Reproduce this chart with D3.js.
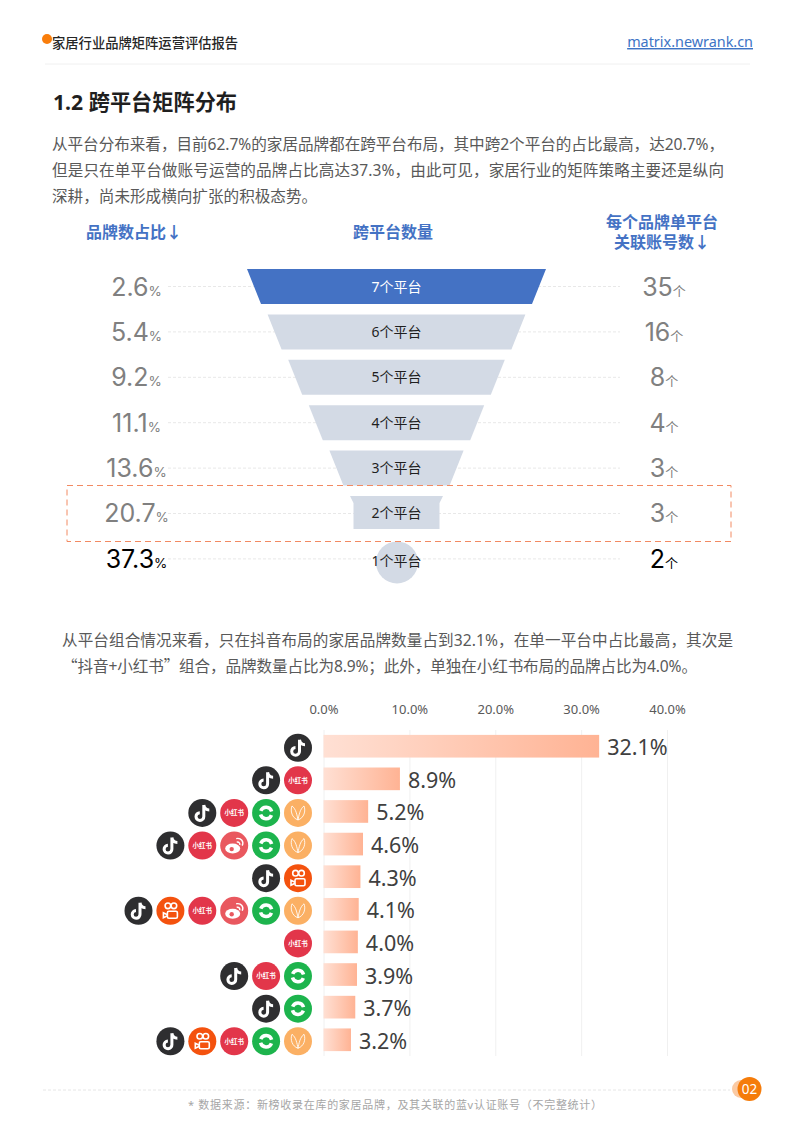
<!DOCTYPE html>
<html lang="zh-CN">
<head>
<meta charset="utf-8">
<script src="https://cdn.jsdelivr.net/npm/d3@7"></script>
<style>
  body { margin: 0; background: #fff; }
  text { font-family: "Noto Sans", "Noto Sans CJK SC", sans-serif; }
  .cjkquote { font-family: "Noto Sans CJK SC", sans-serif; }
</style>
</head>
<body>
<div id="viz-container"></div>
<script>
let w = 792;
let h = 1122;

// funnel data
let platformCounts = [7, 6, 5, 4, 3, 2, 1];
let brandShare = [2.6, 5.4, 9.2, 11.1, 13.6, 20.7, 37.3];
let accountCounts = [35, 16, 8, 4, 3, 3, 2];

// bar data
let comboValues = [32.1, 8.9, 5.2, 4.6, 4.3, 4.1, 4.0, 3.9, 3.7, 3.2];
let comboPlatforms = [
  ["douyin"],
  ["douyin", "xhs"],
  ["douyin", "xhs", "wechat", "butterfly"],
  ["douyin", "xhs", "weibo", "wechat", "butterfly"],
  ["douyin", "kuaishou"],
  ["douyin", "kuaishou", "xhs", "weibo", "wechat", "butterfly"],
  ["xhs"],
  ["douyin", "xhs", "wechat"],
  ["douyin", "wechat"],
  ["douyin", "kuaishou", "xhs", "wechat", "butterfly"]
];
let axisTicks = [0, 10, 20, 30, 40];

let introLines = [
  "从平台分布来看，目前62.7%的家居品牌都在跨平台布局，其中跨2个平台的占比最高，达20.7%，",
  "但是只在单平台做账号运营的品牌占比高达37.3%，由此可见，家居行业的矩阵策略主要还是纵向",
  "深耕，尚未形成横向扩张的积极态势。"
];
let comboLines = [
  "从平台组合情况来看，只在抖音布局的家居品牌数量占到32.1%，在单一平台中占比最高，其次是",
  "“抖音+小红书”组合，品牌数量占比为8.9%；此外，单独在小红书布局的品牌占比为4.0%。"
];

let viz = d3.select("#viz-container")
  .append("svg")
    .attr("width", w)
    .attr("height", h)
    .style("display", "block");

function addText(x, y, str, size, color, anchor, weight) {
  return viz.append("text")
    .attr("x", x)
    .attr("y", y)
    .attr("font-size", size)
    .attr("fill", color)
    .attr("text-anchor", anchor || "start")
    .attr("font-weight", weight || 400)
    .text(str);
}

// header
viz.append("circle").attr("cx", 47).attr("cy", 39).attr("r", 5).attr("fill", "#f97d0b");
addText(52, 48, "家居行业品牌矩阵运营评估报告", 13.3, "#262626", "start", 500);
addText(753, 47, "matrix.newrank.cn", 14.4, "#3d74c5", "end").attr("text-decoration", "underline");
viz.append("line").attr("x1", 45).attr("x2", 750).attr("y1", 64).attr("y2", 64).attr("stroke", "#f0f0f0");

addText(53, 110, "1.2 跨平台矩阵分布", 21.2, "#1f1f1f", "start", 700);

introLines.forEach(function (line, i) {
  let t = addText(52, 149.5 + i * 26, line, 15.6, "#595959");
  if (i < 2) t.attr("textLength", 672).attr("lengthAdjust", "spacing");
});

// column titles
let blue = "#4472c4";
addText(134, 237.5, "品牌数占比↓", 16, blue, "middle", 700);
addText(393, 237.5, "跨平台数量", 16, blue, "middle", 700);
addText(662, 228, "每个品牌单平台", 16, blue, "middle", 700);
addText(662, 248, "关联账号数↓", 16, blue, "middle", 700);

// funnel
let funnelCx = 396.5;
let rowY = d3.scaleBand().domain(platformCounts).range([269, 576.4]).paddingInner(0.229).paddingOuter(0);
let topWidth = d3.scaleLinear().domain([2, 7]).range([93, 299]);
let slant = 14;

let rows = viz.selectAll(".funnelrow")
  .data(platformCounts)
  .enter()
  .append("g")
    .attr("class", "funnelrow")
    .attr("transform", d => "translate(0," + rowY(d) + ")");

let mid = rowY.bandwidth() / 2;

rows.append("line")
  .attr("x1", 168)
  .attr("x2", 620)
  .attr("y1", mid)
  .attr("y2", mid)
  .attr("stroke", "#e8e8e8")
  .attr("stroke-dasharray", "3 2");

function funnelShape(d) {
  let half = topWidth(d) / 2;
  let b = rowY.bandwidth();
  let pts;
  if (d == 2) {
    // this one is cut off square near the top
    let inner = half - 3.5;
    pts = [[-half, 0], [half, 0], [inner, 7], [inner, b - 2], [-inner, b - 2], [-inner, 7]];
  } else {
    pts = [[-half, 0], [half, 0], [half - slant, b], [-half + slant, b]];
  }
  return pts.map(p => (funnelCx + p[0]) + "," + p[1]).join(" ");
}

rows.filter(d => d > 1).append("polygon")
  .attr("points", funnelShape)
  .attr("fill", d => d == 7 ? blue : "#d3dae5");

rows.filter(d => d == 1).append("circle")
  .attr("cx", funnelCx + 0.5)
  .attr("cy", 21)
  .attr("r", 21)
  .attr("fill", "#d3dae5");

rows.append("text")
  .attr("x", funnelCx)
  .attr("y", d => d == 1 ? 24.5 : 22.5)
  .attr("text-anchor", "middle")
  .attr("font-size", 14)
  .attr("fill", d => d == 7 ? "#fff" : "#1f1f1f")
  .text(d => d + "个平台");

function numberColor(d) {
  return d == 1 ? "#000" : "#808080";
}

let shareText = rows.append("text")
  .attr("x", 136.5)
  .attr("y", 26.5)
  .attr("text-anchor", "middle")
  .attr("fill", numberColor);
shareText.append("tspan").attr("font-family", "Inter").attr("font-size", 25)
  .text((d, i) => brandShare[i].toFixed(1));
shareText.append("tspan").attr("font-family", "Inter").attr("font-size", 13.5).text("%");

let accountText = rows.append("text")
  .attr("x", 664)
  .attr("y", 26.5)
  .attr("text-anchor", "middle")
  .attr("fill", numberColor);
accountText.append("tspan").attr("font-family", "Inter").attr("font-size", 25)
  .text((d, i) => accountCounts[i]);
accountText.append("tspan").attr("font-size", 13).text("个");

// highlight box on the 2 platform row
viz.append("rect")
  .attr("x", 67)
  .attr("y", 485.5)
  .attr("width", 664)
  .attr("height", 56)
  .attr("fill", "none")
  .attr("stroke", "#f28a62")
  .attr("stroke-dasharray", "6 4");

comboLines.forEach(function (line, i) {
  let t = addText(62, 645.5 + i * 26, "", 15.6, "#595959");
  t.html(line.replace(/[“”]/g, m => '<tspan class="cjkquote">' + m + "</tspan>"));
  t.attr("textLength", i == 0 ? 671 : 635).attr("lengthAdjust", "spacing");
});

// bars
let defs = viz.append("defs");
let grad = defs.append("linearGradient").attr("id", "barGrad");
grad.append("stop").attr("offset", "0%").attr("stop-color", "#ffe0d4");
grad.append("stop").attr("offset", "100%").attr("stop-color", "#ffb394");

let x = d3.scaleLinear().domain([0, 40]).range([323.5, 667]);
let y = d3.scaleBand().domain(d3.range(comboValues.length)).range([730, 1056])
  .paddingInner(0.305).paddingOuter(0.15);

let xAxis = d3.axisTop(x)
  .tickValues(axisTicks)
  .tickFormat(d => d.toFixed(1) + "%")
  .tickSize(-326)
  .tickPadding(16);

let axisGroup = viz.append("g").attr("transform", "translate(0,730)").call(xAxis);
axisGroup.select(".domain").remove();
axisGroup.selectAll("line").attr("stroke", "#f0f0f0");
axisGroup.selectAll("text").attr("font-size", 13).attr("fill", "#595959")
  .attr("font-family", "'Noto Sans', sans-serif");

viz.selectAll(".bar").data(comboValues).enter()
  .append("rect")
    .attr("class", "bar")
    .attr("x", x(0))
    .attr("y", (d, i) => y(i))
    .attr("width", d => x(d) - x(0))
    .attr("height", y.bandwidth())
    .attr("fill", "url(#barGrad)");

viz.selectAll(".barlabel").data(comboValues).enter()
  .append("text")
    .attr("class", "barlabel")
    .attr("x", d => x(d) + 8)
    .attr("y", (d, i) => y(i) + y.bandwidth() / 2 + 9)
    .attr("font-size", 21.5)
    .attr("fill", "#404040")
    .text(d => d.toFixed(1) + "%");

// platform icons
let iconColors = {
  douyin: "#2e2e30",
  xhs: "#e2364a",
  weibo: "#e9585f",
  wechat: "#1db44d",
  butterfly: "#fbb064",
  kuaishou: "#f4520e"
};

function drawGlyph(g, name) {
  if (name == "douyin") {
    g.append("path")
      .attr("d", "M1.5,-8V3.5A3.9,3.9 0 1 1 -2.5,-0.3M1.5,-8C2,-5 4,-3 7,-3")
      .attr("fill", "none").attr("stroke", "#fff").attr("stroke-width", 3);
  } else if (name == "xhs") {
    g.append("text").attr("text-anchor", "middle").attr("y", 2.3)
      .attr("font-size", 6.5).attr("font-weight", 700).attr("fill", "#fff").text("小红书");
  } else if (name == "wechat") {
    let arc = d3.arc().innerRadius(4).outerRadius(7.5);
    [-1.2, 1.94].forEach(function (a) {
      g.append("path").attr("fill", "#fff")
        .attr("d", arc({ startAngle: a, endAngle: a + 2.5 }));
    });
  } else if (name == "butterfly") {
    g.append("path")
      .attr("d", "M0,7C-1,2 -2,-4 -6,-7C-8,-2 -6,5 0,7C1,2 2,-4 6,-7C8,-2 6,5 0,7")
      .attr("fill", "none").attr("stroke", "#fff").attr("stroke-width", 1).attr("opacity", 0.85);
  } else if (name == "weibo") {
    g.append("ellipse").attr("cx", -1.5).attr("cy", 3).attr("rx", 7.5).attr("ry", 5).attr("fill", "#fff");
    g.append("circle").attr("cx", -2.5).attr("cy", 3.5).attr("r", 2.2).attr("fill", iconColors.weibo);
    g.append("path").attr("d", "M2,-7C7,-8 10,-4 8,0M2.5,-3.5C5,-4 6,-2 5.5,-0.5")
      .attr("fill", "none").attr("stroke", "#fff").attr("stroke-width", 1.4);
  } else if (name == "kuaishou") {
    let s = g.append("g").attr("fill", "none").attr("stroke", "#fff").attr("stroke-width", 1.6);
    s.append("circle").attr("cx", -2.5).attr("cy", -5).attr("r", 2.8);
    s.append("circle").attr("cx", 3.5).attr("cy", -5).attr("r", 2.8);
    s.append("rect").attr("x", -3).attr("y", 0.5).attr("width", 10).attr("height", 7).attr("rx", 1.5);
    s.append("path").attr("d", "M-3,4L-7,2V7L-3,5");
  }
}

// slot 0 is the rightmost icon in a row
let slotX = d3.scaleLinear().domain([0, 5]).range([298, 138.5]);

comboPlatforms.forEach(function (list, i) {
  let row = viz.append("g").attr("class", "iconrow");
  list.forEach(function (name, j) {
    let icon = row.append("g")
      .attr("transform", "translate(" + slotX(list.length - 1 - j) + "," + (y(i) + y.bandwidth() / 2 + 1.5) + ")");
    icon.append("circle").attr("r", 14).attr("fill", iconColors[name]);
    drawGlyph(icon, name);
  });
});

// footer
viz.append("line").attr("x1", 43).attr("x2", 730).attr("y1", 1090).attr("y2", 1090)
  .attr("stroke", "#e6e6e6").attr("stroke-dasharray", "3 2");
viz.append("circle").attr("cx", 741).attr("cy", 1089).attr("r", 9).attr("fill", "#fbcaa3");
viz.append("circle").attr("cx", 749.5).attr("cy", 1089).attr("r", 12).attr("fill", "#f57c0a");
addText(749.5, 1094, "02", 13.5, "#fff", "middle");
addText(188, 1109, "* 数据来源：新榜收录在库的家居品牌，及其关联的蓝v认证账号（不完整统计）", 11, "#a6a6a6")
  .attr("textLength", 414).attr("lengthAdjust", "spacing");
</script>
</body>
</html>
